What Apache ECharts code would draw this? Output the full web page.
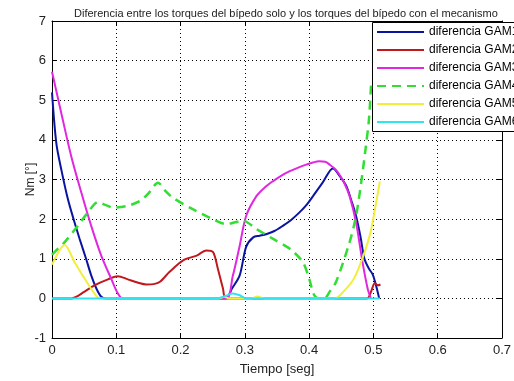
<!DOCTYPE html>
<html>
<head>
<meta charset="utf-8">
<script src="https://cdn.jsdelivr.net/npm/echarts@6/dist/echarts.min.js"></script>
<style>
html, body { margin: 0; padding: 0; background: #fff; }
#chart { width: 514px; height: 381px; }
</style>
</head>
<body>
<div id="chart"></div>
<script>
// valores (tiempo en seg, diferencia en Nm)
let names = ["diferencia GAM1", "diferencia GAM2", "diferencia GAM3", "diferencia GAM4", "diferencia GAM5", "diferencia GAM6"];
let colors = ["#0a14a0", "#c0181c", "#e028e0", "#33dd33", "#f2ee3c", "#30e4f0"];

let tGam1 = [0, 0.0067, 0.0145, 0.0248, 0.035, 0.043, 0.053, 0.061, 0.069, 0.0766, 0.084, 0.27, 0.28, 0.292, 0.302, 0.313, 0.323, 0.333, 0.346, 0.359, 0.372, 0.385, 0.396, 0.406, 0.421, 0.437, 0.448, 0.458, 0.466, 0.473, 0.48, 0.486, 0.493, 0.499, 0.504, 0.509];
let yGam1 = [5.2, 3.92, 3.25, 2.5, 1.92, 1.5, 1.0, 0.58, 0.25, 0.04, 0, 0, 0.25, 0.58, 1.3, 1.54, 1.58, 1.62, 1.7, 1.83, 1.98, 2.17, 2.36, 2.58, 2.92, 3.28, 3.08, 2.83, 2.45, 2.08, 1.55, 1.0, 0.75, 0.6, 0.33, 0];

let tGam2 = [0, 0.030, 0.0507, 0.066, 0.087, 0.1025, 0.118, 0.133, 0.147, 0.158, 0.168, 0.183, 0.204, 0.225, 0.240, 0.2505, 0.258, 0.266, 0.271, 0.49, 0.497, 0.502, 0.507, 0.511];
let yGam2 = [0, 0, 0.17, 0.33, 0.48, 0.56, 0.48, 0.4, 0.35, 0.36, 0.42, 0.67, 0.96, 1.08, 1.21, 1.17, 0.75, 0.25, 0, 0, 0.2, 0.38, 0.33, 0.35];

let tGam3 = [0, 0.0145, 0.030, 0.0456, 0.061, 0.0766, 0.092, 0.1025, 0.110, 0.27, 0.281, 0.292, 0.302, 0.318, 0.331, 0.344, 0.357, 0.37, 0.383, 0.3955, 0.406, 0.416, 0.425, 0.432, 0.44, 0.447, 0.455, 0.463, 0.473, 0.483, 0.491, 0.496];
let yGam3 = [5.72, 4.67, 3.58, 2.67, 1.83, 1.08, 0.5, 0.125, 0, 0, 0.55, 1.33, 2.08, 2.58, 2.8, 2.96, 3.1, 3.21, 3.3, 3.375, 3.43, 3.46, 3.45, 3.375, 3.27, 3.125, 2.9, 2.58, 1.92, 0.92, 0.25, 0];

let tGam4 = [0, 0.004, 0.0197, 0.040, 0.056, 0.0714, 0.083, 0.095, 0.116, 0.137, 0.150, 0.165, 0.177, 0.188, 0.219, 0.245, 0.271, 0.285, 0.297, 0.318, 0.344, 0.37, 0.39, 0.40, 0.408, 0.416, 0.424, 0.432, 0.442, 0.463, 0.473, 0.481, 0.4876, 0.493, 0.4964];
let yGam4 = [1.1, 1.17, 1.42, 1.83, 2.17, 2.43, 2.36, 2.29, 2.33, 2.46, 2.65, 2.92, 2.7, 2.54, 2.25, 2.04, 1.875, 1.92, 1.96, 1.75, 1.5, 1.25, 0.92, 0.5, 0.08, 0, 0, 0.17, 0.42, 1.42, 2.08, 2.92, 3.75, 4.5, 5.4];

let tGam5 = [0, 0.0197, 0.035, 0.0507, 0.066, 0.074, 0.26, 0.268, 0.276, 0.31, 0.32, 0.33, 0.44, 0.455, 0.468, 0.478, 0.488, 0.496, 0.503, 0.510];
let yGam5 = [0.85, 1.35, 0.92, 0.5, 0.125, 0, 0, 0.04, 0, 0, 0.05, 0, 0, 0.2, 0.45, 0.8, 1.25, 1.7, 2.3, 2.95];

let tGam6 = [0, 0.256, 0.27, 0.281, 0.292, 0.302, 0.51];
let yGam6 = [0, 0, 0.06, 0.125, 0.08, 0, 0];

let xTicks = [0, 0.7, 0.1];   // min, max, paso
let yTicks = [-1, 7, 1];

let tList = [tGam1, tGam2, tGam3, tGam4, tGam5, tGam6];
let yList = [yGam1, yGam2, yGam3, yGam4, yGam5, yGam6];

let chart = echarts.init(document.getElementById("chart"));

let font = "Liberation Sans, Arial, sans-serif";
let dotted = { show: true, lineStyle: { color: "#000", type: [1, 3], width: 1 } };

function makeAxis(pos, ticks, main) {
    return {
        type: "value",
        position: pos,
        min: ticks[0],
        max: ticks[1],
        interval: ticks[2],
        axisLine: { show: true, onZero: false, lineStyle: { color: "#000", width: 1 } },
        axisTick: { show: true, inside: true, length: 5, lineStyle: { color: "#000" } },
        axisLabel: main ? { show: true, color: "#222", fontSize: 13, fontFamily: font, margin: 6 } : { show: false },
        splitLine: main ? dotted : { show: false },
    };
}

let xMain = makeAxis("bottom", xTicks, true);
xMain.name = "Tiempo [seg]";
xMain.nameLocation = "middle";
xMain.nameGap = 25;
xMain.nameMoveOverlap = false;
xMain.nameTextStyle = { color: "#222", fontSize: 13, fontFamily: font };

let yMain = makeAxis("left", yTicks, true);
yMain.name = "Nm [°]";
yMain.nameLocation = "middle";
yMain.nameGap = 15;
yMain.nameMoveOverlap = false;
yMain.nameTextStyle = { color: "#222", fontSize: 12, fontFamily: font };

let seriesList = [];
for (let i = 0; i < names.length; i++) {
    let pts = [];
    for (let j = 0; j < tList[i].length; j++) {
        pts.push([tList[i][j], yList[i][j]]);
    }
    seriesList.push({
        name: names[i],
        type: "line",
        xAxisIndex: 0,
        yAxisIndex: 0,
        data: pts,
        symbol: "none",
        smooth: 0.3,
        animation: false,
        color: colors[i],
        lineStyle: {
            color: colors[i],
            width: i == 3 ? 2.5 : 2,
            type: i == 3 ? [9, 6] : "solid",
        },
    });
}

chart.setOption({
    animation: false,
    title: {
        text: "Diferencia entre los torques del bípedo solo y los torques del bípedo con el mecanismo",
        left: 69,
        top: 3,
        textStyle: { color: "#222", fontSize: 11, fontWeight: "normal", fontFamily: font },
    },
    grid: { left: 52, right: 11, top: 21, bottom: 41 },
    xAxis: [xMain, makeAxis("top", xTicks, false)],
    yAxis: [yMain, makeAxis("right", yTicks, false)],
    // caja de la leyenda, se sale del borde derecho como en la figura
    graphic: [{
        type: "rect",
        left: 372,
        top: 22,
        z: 3,
        shape: { width: 160, height: 109 },
        style: { fill: "#fff", stroke: "#000", lineWidth: 1 },
    }],
    legend: {
        orient: "vertical",
        left: 373,
        top: 23,
        padding: [3, 0, 3, 3],
        itemWidth: 47,
        itemHeight: 12,
        itemGap: 6,
        itemStyle: { opacity: 0 },
        textStyle: { color: "#000", fontSize: 12, fontFamily: font },
        data: names,
        z: 5,
    },
    series: seriesList,
});
</script>
</body>
</html>
